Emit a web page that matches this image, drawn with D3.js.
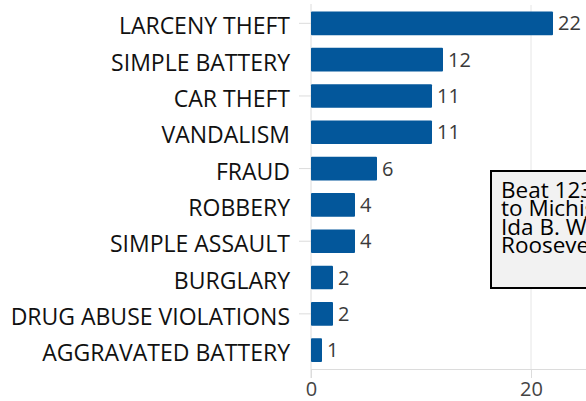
<!doctype html>
<html>
<head>
<meta charset="utf-8">
<script src="https://d3js.org/d3.v7.min.js"></script>
<style>
  body { margin: 0; background: #fff; }
  svg { display: block; }
</style>
</head>
<body>
<div id="chart"></div>
<script>
// crime counts, largest first
var categories = ["LARCENY THEFT", "SIMPLE BATTERY", "CAR THEFT", "VANDALISM", "FRAUD",
                  "ROBBERY", "SIMPLE ASSAULT", "BURGLARY", "DRUG ABUSE VIOLATIONS", "AGGRAVATED BATTERY"];
var counts = [22, 12, 11, 11, 6, 4, 4, 2, 2, 1];
var xTicks = [0, 20];
var noteLines = ["Beat 123: State St", "to Michigan Ave,", "Ida B. Wells Dr to", "Roosevelt Rd"];

var width = 586, height = 401;

var svg = d3.select("#chart")
  .append("svg")
    .attr("width", width)
    .attr("height", height);

var x = d3.scaleLinear()
  .domain([0, 25])
  .range([311, 586]);

var y = d3.scaleBand()
  .domain(categories)
  .range([5, 368.5])
  .paddingInner(0.35)
  .paddingOuter(0.18);

// grid line at 20
svg.append("g")
  .selectAll("line")
  .data(xTicks.filter(function(d) { return d > 0; }))
  .enter().append("line")
    .attr("x1", function(d) { return x(d); })
    .attr("x2", function(d) { return x(d); })
    .attr("y1", 5)
    .attr("y2", 369)
    .attr("stroke", "#e6e6e6");

// bottom axis
var xAxis = svg.append("g")
  .attr("transform", "translate(0,369)")
  .call(d3.axisBottom(x).tickValues(xTicks).tickSize(9).tickPadding(4).tickFormat(d3.format("d")));
xAxis.select(".domain").attr("stroke", "#dcdcdc");
xAxis.selectAll(".tick line").attr("stroke", "#dcdcdc");
xAxis.selectAll(".tick text")
  .attr("fill", "#444")
  .style("font-family", "'Open Sans', sans-serif")
  .style("font-size", "20px");

// left axis, tick every other category
var yAxis = svg.append("g")
  .attr("transform", "translate(311,0)")
  .call(d3.axisLeft(y)
    .tickValues(categories.filter(function(d, i) { return i % 2 == 0; }))
    .tickSize(12).tickSizeOuter(0).tickFormat(""));
yAxis.select(".domain").attr("stroke", "#dcdcdc").attr("d", "M0,4V378");
yAxis.selectAll(".tick line").attr("stroke", "#dcdcdc");

// category labels
svg.append("g")
  .selectAll("text")
  .data(categories)
  .enter().append("text")
    .attr("x", 290)
    .attr("y", function(d) { return y(d) + y.bandwidth() / 2 + 3; })
    .attr("dy", "0.35em")
    .attr("text-anchor", "end")
    .attr("fill", "#111")
    .style("font-family", "'Open Sans', sans-serif")
    .style("font-size", "23px")
    .text(function(d) { return d; });

// bars
svg.append("g")
  .selectAll("rect")
  .data(counts)
  .enter().append("rect")
    .attr("x", x(0))
    .attr("y", function(d, i) { return y(categories[i]); })
    .attr("width", function(d) { return x(d) - x(0); })
    .attr("height", y.bandwidth())
    .attr("rx", 1)
    .attr("fill", "#03579b");

// value labels
svg.append("g")
  .selectAll("text")
  .data(counts)
  .enter().append("text")
    .attr("x", function(d) { return x(d) + 5; })
    .attr("y", function(d, i) { return y(categories[i]) + y.bandwidth() / 2; })
    .attr("dy", "0.35em")
    .attr("fill", "#3a3a3a")
    .style("font-family", "'Open Sans', sans-serif")
    .style("font-size", "20px")
    .text(function(d) { return d; });

// note box (runs off the right edge)
var note = svg.append("g");
note.append("rect")
  .attr("x", 491)
  .attr("y", 171)
  .attr("width", 220)
  .attr("height", 117)
  .attr("fill", "#f2f2f2")
  .attr("stroke", "#000")
  .attr("stroke-width", 2);
note.selectAll("text")
  .data(noteLines)
  .enter().append("text")
    .attr("x", 501)
    .attr("y", function(d, i) { return 198 + i * 18.3; })
    .attr("fill", "#000")
    .style("font-family", "'Open Sans', sans-serif")
    .style("font-size", "22.5px")
    .text(function(d) { return d; });
</script>
</body>
</html>
